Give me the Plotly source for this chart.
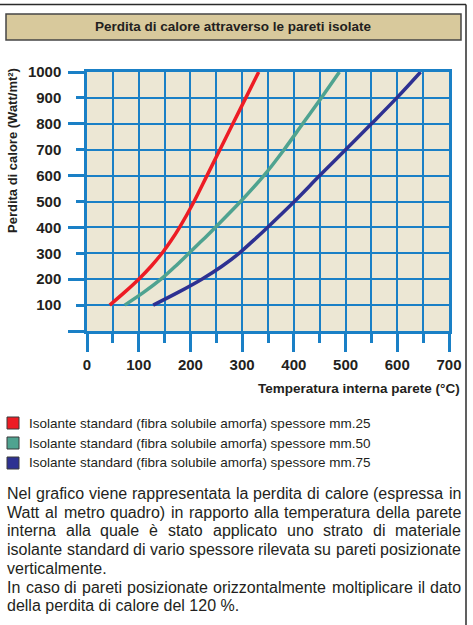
import plotly.graph_objects as go

# ---------------- data ----------------
heat_loss = [100, 150, 200, 250, 300, 350, 400, 500, 600, 700, 800, 900, 1000]   # Watt/mt²
temp_mm25 = [44, 73, 100, 124, 145, 163, 179, 207, 232, 257, 282, 307, 332]      # °C
temp_mm50 = [73, 110, 143, 171, 197, 223, 248, 297, 342, 381, 417, 453, 488]     # °C
temp_mm75 = [128, 177, 222, 261, 294, 322, 349, 401, 450, 500, 550, 599, 645]    # °C

series_names = [
    "Isolante standard (fibra solubile amorfa) spessore mm.25",
    "Isolante standard (fibra solubile amorfa) spessore mm.50",
    "Isolante standard (fibra solubile amorfa) spessore mm.75",
]
series_colors = ["#ed1c24", "#4fa390", "#2e3192"]

x_tick_vals = [0, 100, 200, 300, 400, 500, 600, 700]
y_tick_vals = [100, 200, 300, 400, 500, 600, 700, 800, 900, 1000]
y_long_tick_vals = [0, 200, 400, 600, 800, 1000]

chart_title = "Perdita di calore attraverso le pareti isolate"
x_title = "Temperatura interna parete (°C)"
y_title = "Perdita di calore (Watt/mt²)"

paragraph_lines = [
    "Nel grafico viene rappresentata la perdita di calore (espressa in",
    "Watt al metro quadro) in rapporto alla temperatura della parete",
    "interna alla quale è stato applicato uno strato di materiale",
    "isolante standard di vario spessore rilevata su pareti posizionate",
    "verticalmente.",
    "In caso di pareti posizionate orizzontalmente moltiplicare il dato",
    "della perdita di calore del 120 %.",
]
paragraph_justified = [True, True, True, True, False, True, False]

# ---------------- styling / layout helpers ----------------
W, H = 473, 625
L, R, T, B = 87, 449, 72, 331
FONT = "Liberation Sans, Arial, Helvetica, sans-serif"
TXT = "#231f20"
GRID = "#1a80c6"
PLOT_BG = "#ece7d4"


def fx(px):
    return (px - L) / (R - L)


def fy(py):
    return (B - py) / (B - T)


# Arial / Liberation Sans regular advance widths (1/1000 em)
ARIAL = {
    ' ': 278, 'a': 556, 'b': 556, 'c': 500, 'd': 556, 'e': 556, 'f': 278, 'g': 556,
    'h': 556, 'i': 222, 'j': 222, 'k': 500, 'l': 222, 'm': 833, 'n': 556, 'o': 556,
    'p': 556, 'q': 556, 'r': 333, 's': 500, 't': 278, 'u': 556, 'v': 500, 'w': 722,
    'x': 500, 'y': 500, 'z': 500, 'I': 278, 'N': 722, 'W': 944, 'T': 611,
    '(': 333, ')': 333, '.': 278, ',': 278, '%': 889, 'è': 556,
}


def text_w(s, size):
    return sum(ARIAL.get(c, 556) for c in s) * size / 1000.0


fig = go.Figure()

for xs, name, color in zip([temp_mm25, temp_mm50, temp_mm75], series_names, series_colors):
    fig.add_trace(go.Scatter(
        x=xs, y=heat_loss, mode="lines", name=name,
        line=dict(color=color, width=3.5, shape="spline", smoothing=1.0),
        showlegend=False, hoverinfo="skip",
    ))

# helper trace to carry the second (long-tick) y axis
fig.add_trace(go.Scatter(x=[None], y=[None], yaxis="y2", showlegend=False,
                         hoverinfo="skip", mode="lines"))

tickfont = dict(family=FONT, size=15, color=TXT, weight=700)

fig.update_layout(
    width=W, height=H,
    margin=dict(l=L, r=W - R, t=T, b=H - B, pad=0),
    paper_bgcolor="white",
    plot_bgcolor=PLOT_BG,
    showlegend=False,
    font=dict(family=FONT, color=TXT),
    xaxis=dict(
        range=[0, 700], tickvals=x_tick_vals, ticks="outside", ticklen=18,
        tickwidth=2.5, tickcolor=GRID, showgrid=True, gridcolor=GRID, gridwidth=1.8,
        minor=dict(dtick=50, tick0=0, ticks="outside", ticklen=9, tickwidth=2.5,
                   tickcolor=GRID, showgrid=True, gridcolor=GRID, gridwidth=1.8),
        showline=True, mirror=True, linecolor=GRID, linewidth=2.5,
        zeroline=False, tickfont=tickfont, ticklabelstandoff=0, fixedrange=True,
    ),
    yaxis=dict(
        range=[0, 1000], tickvals=y_tick_vals, ticks="outside", ticklen=8,
        tickwidth=2.5, tickcolor=GRID, showgrid=True, gridcolor=GRID, gridwidth=1.8,
        showline=True, mirror=True, linecolor=GRID, linewidth=2.5,
        zeroline=False, tickfont=tickfont, ticklabelstandoff=12, fixedrange=True,
    ),
    yaxis2=dict(
        range=[0, 1000], overlaying="y", side="left", anchor="x",
        tickvals=y_long_tick_vals, ticks="outside", ticklen=18, tickwidth=2.5,
        tickcolor=GRID, showticklabels=False, showgrid=False, showline=False,
        zeroline=False, fixedrange=True,
    ),
)

shapes = []
annotations = []

# outer frame (top and right lines)
shapes.append(dict(type="line", xref="paper", yref="paper",
                   x0=fx(0), x1=fx(466), y0=fy(4.5), y1=fy(4.5),
                   line=dict(color="#2b2b2b", width=1.5)))
shapes.append(dict(type="line", xref="paper", yref="paper",
                   x0=fx(466), x1=fx(466), y0=fy(4.5), y1=fy(625),
                   line=dict(color="#2b2b2b", width=1.5)))

# title box
shapes.append(dict(type="rect", xref="paper", yref="paper",
                   x0=fx(6), x1=fx(461), y0=fy(14), y1=fy(40),
                   fillcolor="#d8c99c", line=dict(color="#454545", width=1.5),
                   layer="below"))
annotations.append(dict(text=chart_title, xref="paper", yref="paper",
                        x=fx(233.5), y=fy(27), xanchor="center", yanchor="middle",
                        showarrow=False,
                        font=dict(family=FONT, size=13.5, color=TXT, weight=700)))

# axis titles
annotations.append(dict(text=x_title, xref="paper", yref="paper",
                        x=fx(462), y=fy(388), xanchor="right", yanchor="middle",
                        showarrow=False,
                        font=dict(family=FONT, size=13.5, color=TXT, weight=700)))
annotations.append(dict(text=y_title, xref="paper", yref="paper",
                        x=fx(12), y=fy(151), xanchor="center", yanchor="middle",
                        textangle=-90, showarrow=False,
                        font=dict(family=FONT, size=13, color=TXT, weight=700)))

# legend (squares + labels)
for i, (name, color) in enumerate(zip(series_names, series_colors)):
    cy = 423 + 20 * i
    shapes.append(dict(type="rect", xref="paper", yref="paper",
                       x0=fx(7), x1=fx(19), y0=fy(cy + 6), y1=fy(cy - 6),
                       fillcolor=color, line=dict(color="#3a3a3a", width=1)))
    annotations.append(dict(text=name, xref="paper", yref="paper",
                            x=fx(28), y=fy(cy), xanchor="left", yanchor="middle",
                            showarrow=False, borderpad=0,
                            font=dict(family=FONT, size=13.5, color=TXT)))

# justified paragraph
P_SIZE = 16
P_LEFT, P_RIGHT = 7, 461
for i, (line, just) in enumerate(zip(paragraph_lines, paragraph_justified)):
    cy = 493.5 + 18.7 * i
    if not just:
        annotations.append(dict(text=line, xref="paper", yref="paper",
                                x=fx(P_LEFT - 1), y=fy(cy), xanchor="left",
                                yanchor="middle", showarrow=False, borderpad=0,
                                font=dict(family=FONT, size=P_SIZE, color=TXT)))
        continue
    words = line.split(" ")
    widths = [text_w(w, P_SIZE) for w in words]
    gap = (P_RIGHT - P_LEFT - sum(widths)) / (len(words) - 1)
    xpos = P_LEFT
    for w, wd in zip(words, widths):
        annotations.append(dict(text=w, xref="paper", yref="paper",
                                x=fx(xpos - 1), y=fy(cy), xanchor="left",
                                yanchor="middle", showarrow=False, borderpad=0,
                                font=dict(family=FONT, size=P_SIZE, color=TXT)))
        xpos += wd + gap

fig.update_layout(shapes=shapes, annotations=annotations)

fig.write_html("out.html", config={"displayModeBar": False},
               post_script="document.body.style.margin='0';")
